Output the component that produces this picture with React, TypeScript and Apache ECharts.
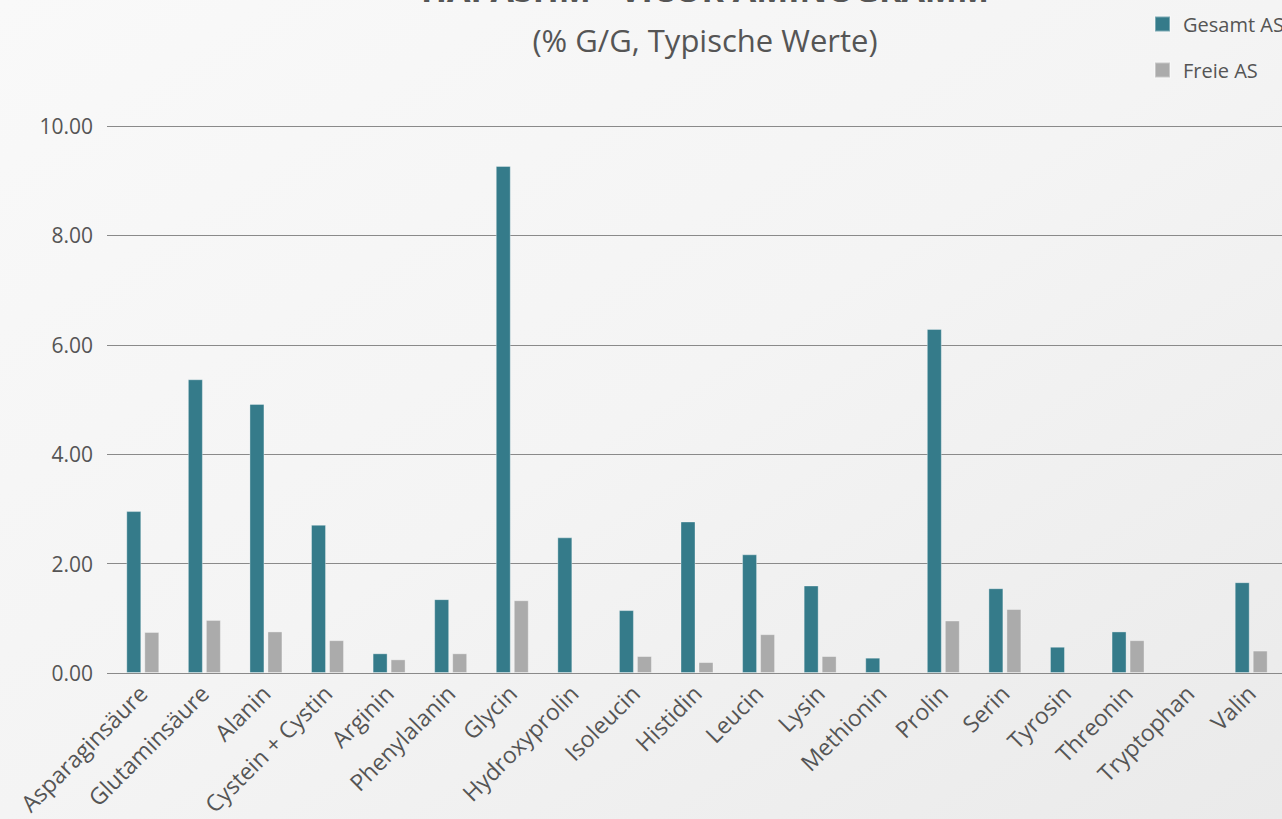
import React, { useEffect, useRef } from "react";
import * as echarts from "echarts";

const categories = [
  "Asparaginsäure", "Glutaminsäure", "Alanin", "Cystein + Cystin", "Arginin",
  "Phenylalanin", "Glycin", "Hydroxyprolin", "Isoleucin", "Histidin", "Leucin",
  "Lysin", "Methionin", "Prolin", "Serin", "Tyrosin", "Threonin", "Tryptophan", "Valin",
];
const gesamtAS = [2.96, 5.37, 4.92, 2.71, 0.36, 1.35, 9.27, 2.48, 1.15, 2.77, 2.17, 1.6, 0.28, 6.29, 1.55, 0.48, 0.76, null, 1.66];
const freieAS = [0.75, 0.97, 0.76, 0.6, 0.25, 0.36, 1.33, null, 0.31, 0.2, 0.71, 0.31, null, 0.96, 1.17, null, 0.6, null, 0.41];
const yTicks = { min: 0, max: 10, interval: 2 };
const titleText = "HAI ASHM - VICOR AMINOGRAMM";
const subtitleText = "(% G/G, Typische Werte)";
const seriesNames = ["Gesamt AS", "Freie AS"];

const FONT = "'Open Sans', 'Noto Sans', sans-serif";

export default function App() {
  const ref = useRef<HTMLDivElement>(null);
  useEffect(() => {
    document.body.style.margin = "0";
    const chart = echarts.init(ref.current!, null, { renderer: "svg" });
    chart.setOption({
      animation: false,
      backgroundColor: {
        type: "linear", x: 0, y: 0, x2: 1, y2: 1,
        colorStops: [
          { offset: 0, color: "#f9f9f9" },
          { offset: 0.5, color: "#f4f4f4" },
          { offset: 1, color: "#eaeaea" },
        ],
      },
      textStyle: { fontFamily: FONT },
      graphic: [
        {
          type: "text", x: 705, y: 6,
          style: {
            text: titleText, font: `bold 34px ${FONT}`, fill: "#555555",
            align: "center", verticalAlign: "bottom",
          },
        },
        {
          type: "text", x: 705, y: 40,
          style: {
            text: subtitleText, font: `31px ${FONT}`, fill: "#555555",
            align: "center", verticalAlign: "middle",
          },
        },
      ],
      legend: {
        orient: "vertical", left: 1149, top: 9, itemWidth: 15, itemHeight: 15,
        itemGap: 26, icon: "rect",
        textStyle: { fontSize: 20, color: "#555555", fontFamily: FONT, padding: [0, 0, 0, 8] },
        data: seriesNames,
      },
      grid: { left: 112, right: -3, top: 126, bottom: 146, containLabel: false },
      xAxis: {
        type: "category", data: categories,
        axisLine: { lineStyle: { color: "#8a8a8a", width: 1 } },
        axisTick: { show: false },
        axisLabel: { rotate: 45, fontSize: 23, color: "#555555", margin: 16, interval: 0, fontFamily: FONT },
      },
      yAxis: {
        type: "value", min: yTicks.min, max: yTicks.max, interval: yTicks.interval,
        axisLine: { show: false },
        axisTick: { show: true, length: 5, lineStyle: { color: "#8a8a8a" } },
        splitLine: { lineStyle: { color: "#8a8a8a", width: 1 } },
        axisLabel: {
          fontSize: 21, color: "#555555", margin: 19, fontFamily: FONT,
          formatter: (v: number) => v.toFixed(2),
        },
      },
      series: [
        {
          name: seriesNames[0], type: "bar", data: gesamtAS, barWidth: 15, barGap: "20%",
          itemStyle: { color: "#357b8a", borderColor: "rgba(255,255,255,0.35)", borderWidth: 1 },
        },
        {
          name: seriesNames[1], type: "bar", data: freieAS, barWidth: 15,
          itemStyle: { color: "#ababab", borderColor: "rgba(255,255,255,0.35)", borderWidth: 1 },
        },
      ],
    });
    return () => chart.dispose();
  }, []);
  return <div ref={ref} style={{ width: 1282, height: 819 }} />;
}
